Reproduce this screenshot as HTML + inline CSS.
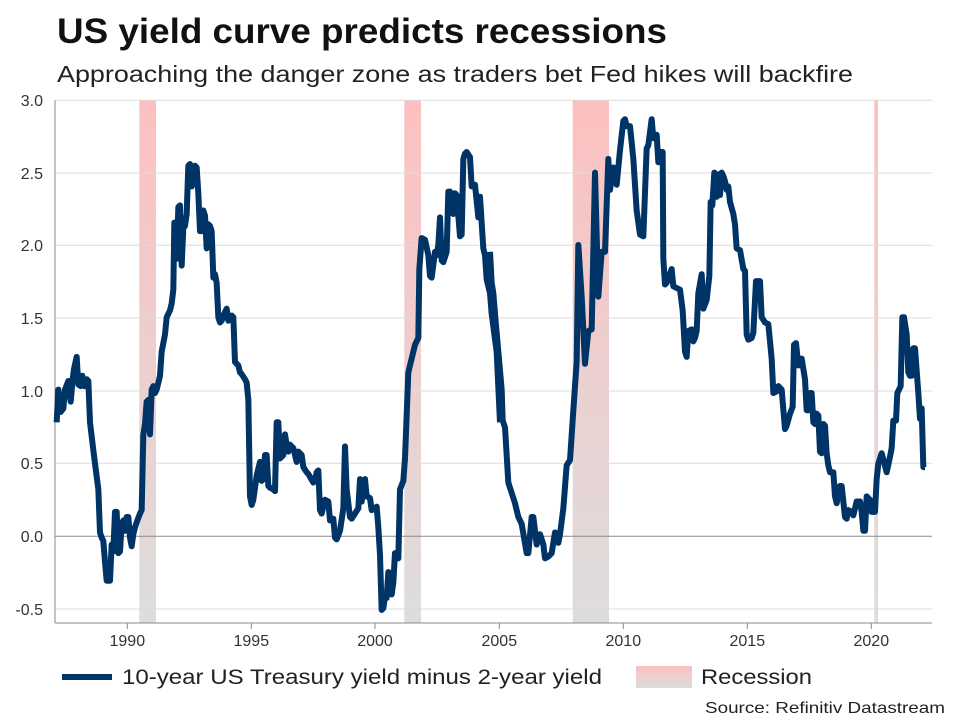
<!DOCTYPE html>
<html><head><meta charset="utf-8"><style>
body{margin:0;background:#fff;width:960px;height:720px;overflow:hidden;font-family:"Liberation Sans",Arial,sans-serif}
</style></head><body>
<svg width="960" height="720" viewBox="0 0 960 720" xmlns="http://www.w3.org/2000/svg" font-family="Liberation Sans, Arial, sans-serif">
<defs><linearGradient id="rg" x1="0" y1="0" x2="0" y2="1"><stop offset="0" stop-color="#fdc0c0"/><stop offset="1" stop-color="#dddddd"/></linearGradient></defs>
<text x="57" y="43" font-size="35" font-weight="bold" fill="#111" textLength="610" lengthAdjust="spacingAndGlyphs">US yield curve predicts recessions</text>
<text x="57" y="82" font-size="23" fill="#222" textLength="796" lengthAdjust="spacingAndGlyphs">Approaching the danger zone as traders bet Fed hikes will backfire</text>
<g fill="url(#rg)">
<rect x="139.3" y="100" width="16.7" height="523"/>
<rect x="404.3" y="100" width="16.7" height="523"/>
<rect x="572.7" y="100" width="36.3" height="523"/>
<rect x="874.3" y="100" width="3.7" height="523"/>
</g>
<g stroke="#dcdcdc" stroke-width="1">
<line x1="55" x2="932" y1="100.3" y2="100.3"/><line x1="55" x2="932" y1="173" y2="173"/>
<line x1="55" x2="932" y1="245.3" y2="245.3"/><line x1="55" x2="932" y1="318" y2="318"/>
<line x1="55" x2="932" y1="391" y2="391"/><line x1="55" x2="932" y1="463.3" y2="463.3"/>
<line x1="55" x2="932" y1="609" y2="609"/>
</g>
<line x1="55" x2="932" y1="536.3" y2="536.3" stroke="#888"/>
<line x1="55" x2="55" y1="100" y2="623" stroke="#888"/>
<line x1="55" x2="932" y1="623" y2="623" stroke="#888"/>
<g stroke="#888"><line x1="127.3" x2="127.3" y1="623" y2="629"/><line x1="251.3" x2="251.3" y1="623" y2="629"/><line x1="375" x2="375" y1="623" y2="629"/><line x1="499.3" x2="499.3" y1="623" y2="629"/><line x1="623.3" x2="623.3" y1="623" y2="629"/><line x1="747.3" x2="747.3" y1="623" y2="629"/><line x1="871.3" x2="871.3" y1="623" y2="629"/></g>
<g font-size="16" fill="#333" text-anchor="end">
<text x="43" y="106">3.0</text><text x="43" y="179">2.5</text><text x="43" y="251">2.0</text><text x="43" y="324">1.5</text><text x="43" y="397">1.0</text><text x="43" y="469">0.5</text><text x="43" y="542">0.0</text><text x="43" y="615">-0.5</text>
</g>
<g font-size="16" fill="#333" text-anchor="middle">
<text x="127.3" y="646">1990</text><text x="251.3" y="646">1995</text><text x="375" y="646">2000</text><text x="499.3" y="646">2005</text><text x="623.3" y="646">2010</text><text x="747.3" y="646">2015</text><text x="871.3" y="646">2020</text>
</g>
<g fill="none" stroke="#003366" stroke-width="6" stroke-linejoin="round">
<g transform="translate(50,90) scale(0.33333,0.34435)">
<polyline vector-effect="non-scaling-stroke" points="20,965 25,870 32,935 40,925 45,870 55,845 62,905 68,840 72,810 80,775 85,855 92,860 97,830 103,860 110,840 115,845 120,965 128,1030 135,1085 145,1160 150,1285 155,1300 160,1310 165,1370 170,1425 180,1425 185,1320 190,1340 195,1225 200,1225 205,1345 210,1340 215,1260 220,1250 225,1280 230,1240 235,1240 240,1300 245,1325 250,1290 255,1270 262,1250 270,1230 275,1220 280,1000 285,970 290,905 295,900 300,1000 305,870 310,860 315,880 320,870 330,830 335,760 345,710 350,660 360,640 365,620 370,580 373,385 377,390 380,490 385,340 390,335 395,510 400,400 405,395 410,360 415,220 420,215 425,280 430,270 435,220 440,225 445,300 450,410 455,410 460,350 465,365 470,460 475,390 480,395 485,410 490,545 495,535 500,560 505,660 510,675 515,670 520,655 530,635 535,670 545,655 550,660 555,790 560,795 565,800 570,820 575,825 585,840 590,850 595,900 600,1180 605,1205 610,1190 620,1120 630,1080 635,1135 640,1130 645,1060 650,1060 655,1150 660,1155 670,1160 675,1165 680,965 685,965 690,1070 700,1060 705,1000 710,1030 715,1050 720,1030 730,1040 740,1080 745,1050 755,1060 760,1095 770,1110 775,1115 790,1140 795,1135 800,1110 805,1105 810,1220 815,1230 825,1190 835,1195 840,1250 850,1245 855,1300 860,1305 870,1280 880,1215 885,1035 890,1160 900,1240 905,1245 915,1230 925,1215 930,1130 935,1195 945,1130 950,1180 960,1185 965,1220 975,1215 980,1210 985,1270 990,1350 995,1510 1000,1505 1005,1470 1010,1475 1015,1400 1020,1460 1025,1465 1030,1430 1035,1345 1040,1360 1045,1360 1050,1160 1060,1135 1065,1070 1075,820 1085,780 1095,740 1105,720 1108,520 1115,430 1125,435 1135,480 1140,540 1145,545 1155,470 1160,480 1165,450 1170,370 1175,495 1180,500 1190,470 1195,295 1200,295 1210,360 1215,300 1220,305 1230,425 1235,420 1240,200 1245,185 1250,180 1260,195 1265,280 1275,275 1285,370 1290,310 1300,460 1305,480 1310,550 1320,590 1325,650 1340,760 1350,965"/>
</g>
<g transform="translate(490,90) scale(0.33333,0.34435)">
<polyline vector-effect="non-scaling-stroke" points="0,470 5,560 10,590 15,650 25,760 35,870 38,960 45,980 55,1140 65,1170 75,1200 85,1240 95,1260 110,1345 115,1345 125,1240 130,1240 140,1320 150,1290 160,1320 165,1360 175,1355 185,1345 195,1285 205,1315 210,1290 220,1215 230,1090 240,1075 250,930 260,790 265,450 275,600 285,795 295,700 305,695 315,240 325,600 335,470 345,470 355,200 360,290 370,225 380,275 390,175 400,90 405,85 410,105 420,105 430,200 440,350 450,420 460,425 470,170 475,160 485,85 490,140 500,130 505,210 510,180 518,180 520,490 525,565 530,560 545,520 550,570 560,575 570,580 578,640 585,760 590,775 595,700 605,695 610,730 615,720 620,700 625,590 635,535 640,635 650,610 658,540 662,325 667,335 673,240 680,310 685,245 690,305 695,240 700,250 705,265 710,290 715,280 720,325 730,360 735,390 740,460 750,465 760,520 765,525 770,710 775,725 785,720 790,705 798,555 810,555 815,660 825,675 835,680 845,780 850,880 860,875 865,860 875,870 885,985 890,975 900,940 908,920 912,740 918,735 925,800 935,780 945,840 950,930 955,930 960,880 965,880 970,965 975,970 980,940 985,945 990,1050 995,1055 1000,970 1005,975 1010,1055 1015,1090 1020,1110 1030,1110 1035,1180 1040,1200 1050,1150 1055,1150 1065,1240 1070,1245 1075,1220 1085,1225 1090,1235 1100,1195 1110,1195 1115,1225 1120,1280 1125,1280 1130,1180 1140,1190 1145,1225 1155,1225 1160,1130 1165,1085 1175,1055 1190,1110 1200,1065 1205,1040 1210,960 1218,960 1222,880 1232,860 1237,660 1242,660 1250,710 1255,820 1260,830 1265,830 1270,750 1275,750 1285,880 1290,955 1295,925 1300,1095 1305,1095"/>
</g>
</g>
<line x1="62" x2="112" y1="677" y2="677" stroke="#003366" stroke-width="6"/>
<text x="122" y="684" font-size="21" fill="#222" textLength="480" lengthAdjust="spacingAndGlyphs">10-year US Treasury yield minus 2-year yield</text>
<rect x="636" y="666" width="56" height="22" fill="url(#rg)"/>
<text x="701" y="684" font-size="21" fill="#222" textLength="111" lengthAdjust="spacingAndGlyphs">Recession</text>
<text x="705" y="713" font-size="16" fill="#222" textLength="240" lengthAdjust="spacingAndGlyphs">Source: Refinitiv Datastream</text>
</svg>
</body></html>
